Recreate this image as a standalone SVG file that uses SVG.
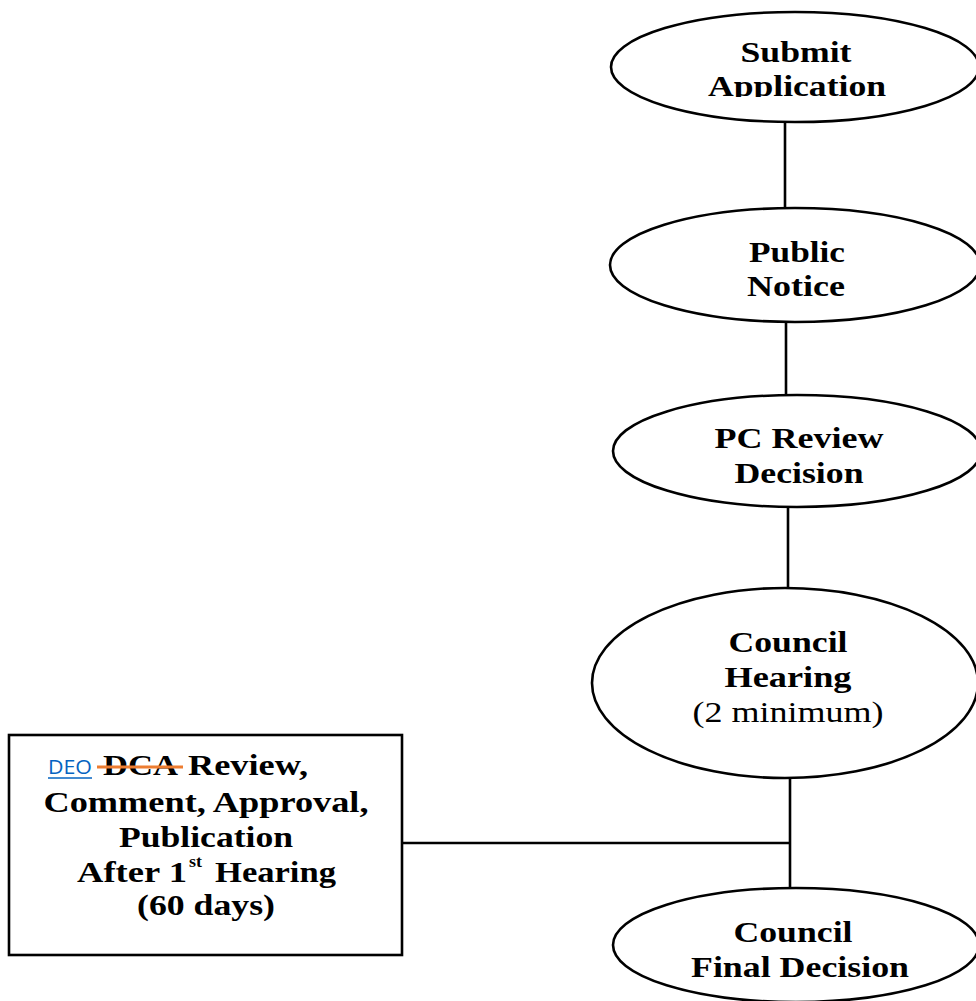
<svg xmlns="http://www.w3.org/2000/svg" width="976" height="1001" viewBox="0 0 976 1001">
<style>
.shape{fill:#fff;stroke:#000;stroke-width:2.6}
.conn{stroke:#000;stroke-width:2.6;fill:none}
.t{font-family:"Liberation Serif","Times New Roman",serif;font-weight:bold;font-size:30px;fill:#000;text-anchor:middle}
.r{font-weight:normal}
.s{text-anchor:start}
</style>
<defs>
<clipPath id="clipApp"><rect x="600" y="0" width="376" height="97"/></clipPath>
</defs>
<rect width="976" height="1001" fill="#fff"/>
<g id="connectors">
<line class="conn" x1="785" y1="122" x2="785" y2="208"/>
<line class="conn" x1="786" y1="322" x2="786" y2="395"/>
<line class="conn" x1="788" y1="507" x2="788" y2="588"/>
<line class="conn" x1="790" y1="778" x2="790" y2="888"/>
<line class="conn" x1="402" y1="843" x2="790" y2="843"/>
</g>
<g id="submit">
<ellipse class="shape" cx="795" cy="67" rx="184" ry="55"/>
<text class="t" x="796" y="62" textLength="111" lengthAdjust="spacingAndGlyphs">Submit</text>
<text class="t" x="797" y="96" textLength="178" lengthAdjust="spacingAndGlyphs" clip-path="url(#clipApp)">Application</text>
</g>
<g id="notice">
<ellipse class="shape" cx="795" cy="265" rx="185" ry="57"/>
<text class="t" x="797" y="262" textLength="96" lengthAdjust="spacingAndGlyphs">Public</text>
<text class="t" x="796" y="296" textLength="98" lengthAdjust="spacingAndGlyphs">Notice</text>
</g>
<g id="pcreview">
<ellipse class="shape" cx="797" cy="451" rx="184" ry="56"/>
<text class="t" x="799" y="448" textLength="169" lengthAdjust="spacingAndGlyphs">PC Review</text>
<text class="t" x="799" y="483" textLength="129" lengthAdjust="spacingAndGlyphs">Decision</text>
</g>
<g id="hearing">
<ellipse class="shape" cx="785" cy="683" rx="193" ry="95"/>
<text class="t" x="788" y="652" textLength="119" lengthAdjust="spacingAndGlyphs">Council</text>
<text class="t" x="788" y="687" textLength="127" lengthAdjust="spacingAndGlyphs">Hearing</text>
<text class="t r" x="788" y="722" textLength="191" lengthAdjust="spacingAndGlyphs">(2 minimum)</text>
</g>
<g id="final">
<ellipse class="shape" cx="796" cy="945" rx="183" ry="57"/>
<text class="t" x="793" y="942" textLength="119" lengthAdjust="spacingAndGlyphs">Council</text>
<text class="t" x="800" y="977" textLength="218" lengthAdjust="spacingAndGlyphs">Final Decision</text>
</g>
<g id="deo">
<rect class="shape" x="9" y="735" width="393" height="220"/>
<text x="48" y="774" font-family="'Open Sans','Liberation Sans',sans-serif" font-size="20" fill="#0563C1" textLength="44" lengthAdjust="spacingAndGlyphs">DEO</text>
<line x1="48" y1="778" x2="92" y2="778" stroke="#0563C1" stroke-width="1.5"/>
<text class="t s" x="103" y="775" textLength="75" lengthAdjust="spacingAndGlyphs">DCA</text>
<line x1="97" y1="767" x2="183" y2="767" stroke="#ED7D31" stroke-width="3"/>
<text class="t s" x="188" y="775" textLength="120" lengthAdjust="spacingAndGlyphs">Review,</text>
<text class="t" x="206" y="812" textLength="325" lengthAdjust="spacingAndGlyphs">Comment, Approval,</text>
<text class="t" x="206" y="847" textLength="174" lengthAdjust="spacingAndGlyphs">Publication</text>
<text class="t s" x="77" y="882" textLength="110" lengthAdjust="spacingAndGlyphs">After 1</text>
<text class="t s" x="189" y="867" style="font-size:17px" textLength="13" lengthAdjust="spacingAndGlyphs">st</text>
<text class="t s" x="215" y="882" textLength="121" lengthAdjust="spacingAndGlyphs">Hearing</text>
<text class="t" x="206" y="915" textLength="138" lengthAdjust="spacingAndGlyphs">(60 days)</text>
</g>
</svg>
